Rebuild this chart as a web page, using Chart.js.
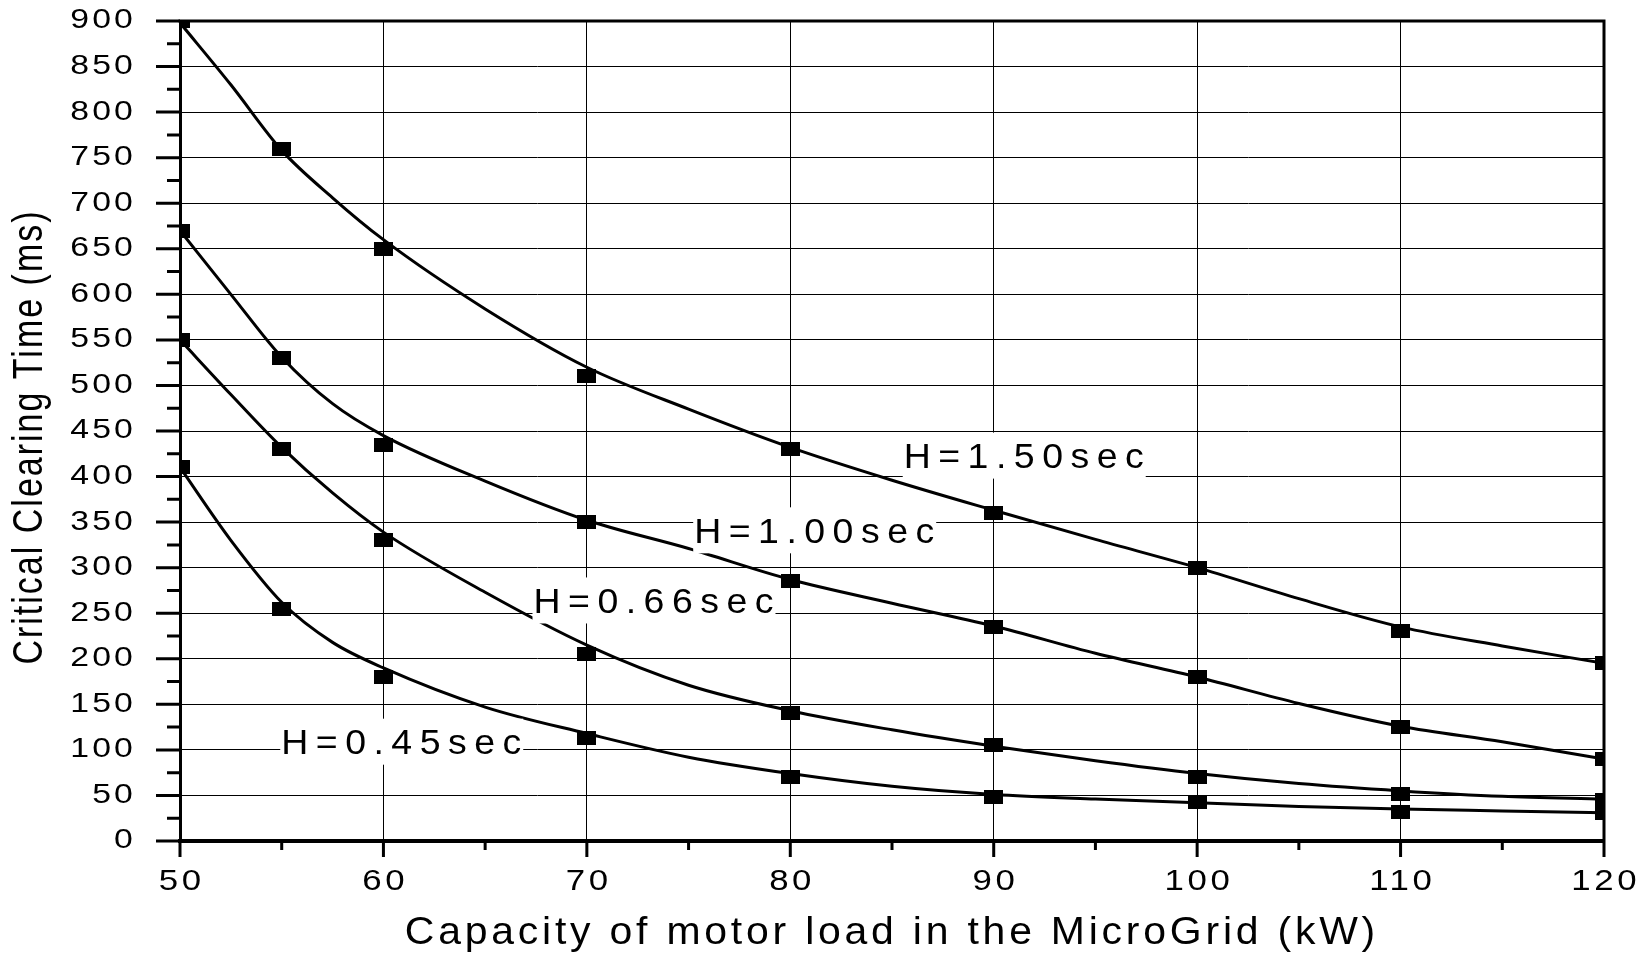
<!DOCTYPE html>
<html>
<head>
<meta charset="utf-8">
<title>Critical clearing time vs motor load</title>
<script src="https://cdn.jsdelivr.net/npm/chart.js@4.4.1/dist/chart.umd.min.js"></script>
<style>
    html, body { margin: 0; padding: 0; background: #fff; }
    #cctChart { display: block; }
</style>
</head>
<body>
<canvas id="cctChart" width="1647" height="955"></canvas>
<script>
// measured points (kW -> ms)
const capacityKW = [50, 55, 60, 70, 80, 90, 100, 110, 120];
const cctH150 = [900, 760, 650, 510, 430, 360, 300, 230, 195];
const cctH100 = [670, 530, 435, 350, 285, 235, 180, 125, 90];
const cctH066 = [550, 430, 330, 205, 140, 105, 70, 52, 45];
const cctH045 = [410, 255, 180, 113, 70, 48, 43, 32, 31];

// fitted curves
const fitKW = [50, 52.5, 55, 57.5, 60, 65, 70, 75, 80, 85, 90, 95, 100, 105, 110, 115, 120];
const fitH150 = [898, 830, 758, 706, 660, 584, 520, 474, 432, 396, 363, 331, 300, 266, 235, 214, 195];
const fitH100 = [670, 600, 531, 480, 445, 395, 352, 321, 287, 261, 236, 206, 180, 151, 126, 109, 90];
const fitH066 = [550, 490, 432, 382, 339, 273, 215, 171, 143, 122, 104, 88, 74, 63, 55, 49, 46];
const fitH045 = [410, 330, 262, 218, 190, 147, 118, 92, 74, 60, 51, 46, 42, 38, 35, 33, 31];

const curveNames = ['H=1.50sec', 'H=1.00sec', 'H=0.66sec', 'H=0.45sec'];

// where the curve names sit (centre of the white box, in axis units)
const curveNameAt = [
    { x: 91.5, y: 423 },
    { x: 81.2, y: 341 },
    { x: 73.3, y: 264 },
    { x: 60.9, y: 109 }
];

const FONT = '"Liberation Sans", Arial, sans-serif';

function toPoints(xs, ys) {
    return xs.map((x, i) => ({ x: x, y: ys[i] }));
}

// solid black rectangle used as the marker
const marker = document.createElement('canvas');
marker.width = 19;
marker.height = 14;
const mctx = marker.getContext('2d');
mctx.fillStyle = '#000';
mctx.fillRect(0, 0, 19, 14);

// the original figure's text is wide and spaced out
function stretchLabels(scale, k, spacing) {
    scale.drawLabels = function (chartArea) {
        const ctx = this.ctx;
        this.getLabelItems(chartArea).forEach(item => {
            const opts = item.options;
            ctx.save();
            ctx.translate(opts.translation[0], opts.translation[1]);
            ctx.scale(k, 1);
            ctx.font = item.font.string;
            ctx.fillStyle = opts.color;
            ctx.textAlign = opts.textAlign;
            ctx.textBaseline = opts.textBaseline;
            ctx.letterSpacing = spacing;
            // centred text gets a trailing space from letterSpacing, undo it
            const shift = opts.textAlign === 'center' ? parseFloat(spacing) / 2 : 0;
            ctx.fillText(item.label, shift, item.textOffset);
            ctx.restore();
        });
    };
}

function stretchTitle(scale, k, spacing, anchorX, dy) {
    const original = scale.drawTitle;
    scale.drawTitle = function () {
        const ctx = this.ctx;
        const ax = anchorX(this);
        ctx.save();
        ctx.letterSpacing = spacing;
        ctx.translate(ax, dy);
        ctx.scale(k, 1);
        ctx.translate(-ax, 0);
        original.apply(this, arguments);
        ctx.restore();
    };
}

const wideTextPlugin = {
    id: 'wideText',
    afterUpdate(chart) {
        const { x, y } = chart.scales;
        if (x._stretched) return;
        stretchLabels(x, 1.2, '3px');
        stretchLabels(y, 1.25, '2.5px');
        stretchTitle(x, 1.05, '3.6px', s => (s.left + s.right) / 2 + 2, 0);
        stretchTitle(y, 1.25, '2px', s => s.left + 30, 6);
        x._stretched = true;
    }
};

const NAME_STRETCH = 1.07;
const NAME_SPACING = 7;
const curveNamePlugin = {
    id: 'curveNames',
    afterDatasetsDraw(chart) {
        const { ctx, scales: { x, y } } = chart;
        ctx.save();
        ctx.font = '35px ' + FONT;
        ctx.letterSpacing = NAME_SPACING + 'px';
        ctx.textAlign = 'left';
        ctx.textBaseline = 'alphabetic';
        curveNames.forEach((text, i) => {
            const cx = x.getPixelForValue(curveNameAt[i].x);
            const cy = y.getPixelForValue(curveNameAt[i].y);
            const w = (ctx.measureText(text).width - NAME_SPACING) * NAME_STRETCH + 3;
            const left = cx - w / 2;
            ctx.fillStyle = '#fff';
            ctx.fillRect(left, cy - 23, w, 46);
            ctx.save();
            ctx.translate(left + 1, cy + 12.5);
            ctx.scale(NAME_STRETCH, 1);
            ctx.fillStyle = '#000';
            ctx.fillText(text, 0, 0);
            ctx.restore();
        });
        ctx.restore();
    }
};

const framePlugin = {
    id: 'frame',
    afterDraw(chart) {
        const { ctx, chartArea: area, scales: { x, y } } = chart;
        ctx.save();
        ctx.strokeStyle = '#000';
        ctx.lineWidth = 3;
        ctx.beginPath();
        ctx.moveTo(area.left - 1.5, area.top);
        ctx.lineTo(area.right, area.top);
        ctx.lineTo(area.right, area.bottom);
        ctx.stroke();

        // outside tick marks, long on labelled values and short half way between
        ctx.beginPath();
        y.ticks.forEach((t, i) => {
            const py = y.getPixelForValue(t.value);
            ctx.moveTo(area.left - 24, py);
            ctx.lineTo(area.left, py);
            if (i < y.ticks.length - 1) {
                const pm = y.getPixelForValue((t.value + y.ticks[i + 1].value) / 2);
                ctx.moveTo(area.left - 13, pm);
                ctx.lineTo(area.left, pm);
            }
        });
        x.ticks.forEach((t, i) => {
            const px = x.getPixelForValue(t.value);
            ctx.moveTo(px, area.bottom);
            ctx.lineTo(px, area.bottom + 16);
            if (i < x.ticks.length - 1) {
                const pm = x.getPixelForValue((t.value + x.ticks[i + 1].value) / 2);
                ctx.moveTo(pm, area.bottom);
                ctx.lineTo(pm, area.bottom + 9);
            }
        });
        ctx.stroke();
        ctx.restore();
    }
};

const curveStyle = {
    borderColor: '#000',
    borderWidth: 3,
    pointRadius: 0,
    cubicInterpolationMode: 'monotone',
    fill: false,
    clip: 0
};

const markerStyle = {
    showLine: false,
    pointStyle: marker,
    pointRadius: 10,
    borderColor: '#000',
    backgroundColor: '#000',
    clip: 0
};

const ctx = document.getElementById('cctChart').getContext('2d');
const chart = new Chart(ctx, {
    type: 'line',
    data: {
        datasets: [
            { label: 'H=1.50sec fit', data: toPoints(fitKW, fitH150), ...curveStyle },
            { label: 'H=1.00sec fit', data: toPoints(fitKW, fitH100), ...curveStyle },
            { label: 'H=0.66sec fit', data: toPoints(fitKW, fitH066), ...curveStyle },
            { label: 'H=0.45sec fit', data: toPoints(fitKW, fitH045), ...curveStyle },
            { label: 'H=1.50sec', data: toPoints(capacityKW, cctH150), ...markerStyle },
            { label: 'H=1.00sec', data: toPoints(capacityKW, cctH100), ...markerStyle },
            { label: 'H=0.66sec', data: toPoints(capacityKW, cctH066), ...markerStyle },
            { label: 'H=0.45sec', data: toPoints(capacityKW, cctH045), ...markerStyle }
        ]
    },
    options: {
        responsive: false,
        animation: false,
        layout: {
            padding: { top: 21, right: 43, left: 0, bottom: 0 }
        },
        plugins: {
            legend: { display: false },
            tooltip: { enabled: false }
        },
        scales: {
            x: {
                type: 'linear',
                min: 50,
                max: 120,
                afterFit(scale) {
                    scale.height = 114;
                    scale.paddingLeft = 0;
                    scale.paddingRight = 0;
                },
                ticks: {
                    stepSize: 10,
                    padding: 24,
                    color: '#000',
                    maxRotation: 0,
                    font: { family: FONT, size: 29 }
                },
                grid: { color: '#000', lineWidth: 1, drawTicks: false },
                border: { display: true, color: '#000', width: 4 },
                title: {
                    display: true,
                    text: 'Capacity of motor load in the MicroGrid (kW)',
                    color: '#000',
                    font: { family: FONT, size: 39, lineHeight: 1 },
                    padding: { top: 0, bottom: 2 }
                }
            },
            y: {
                min: 0,
                max: 900,
                afterFit(scale) {
                    scale.width = 180;
                    scale.paddingTop = 0;
                    scale.paddingBottom = 0;
                },
                ticks: {
                    stepSize: 50,
                    padding: 44,
                    color: '#000',
                    font: { family: FONT, size: 27 }
                },
                grid: { color: '#000', lineWidth: 1, drawTicks: false },
                border: { display: true, color: '#000', width: 3 },
                title: {
                    display: true,
                    text: 'Critical Clearing Time (ms)',
                    color: '#000',
                    font: { family: FONT, size: 34, lineHeight: 1 },
                    padding: { top: 13, bottom: 0 }
                }
            }
        }
    },
    plugins: [wideTextPlugin, curveNamePlugin, framePlugin]
});
</script>
</body>
</html>
